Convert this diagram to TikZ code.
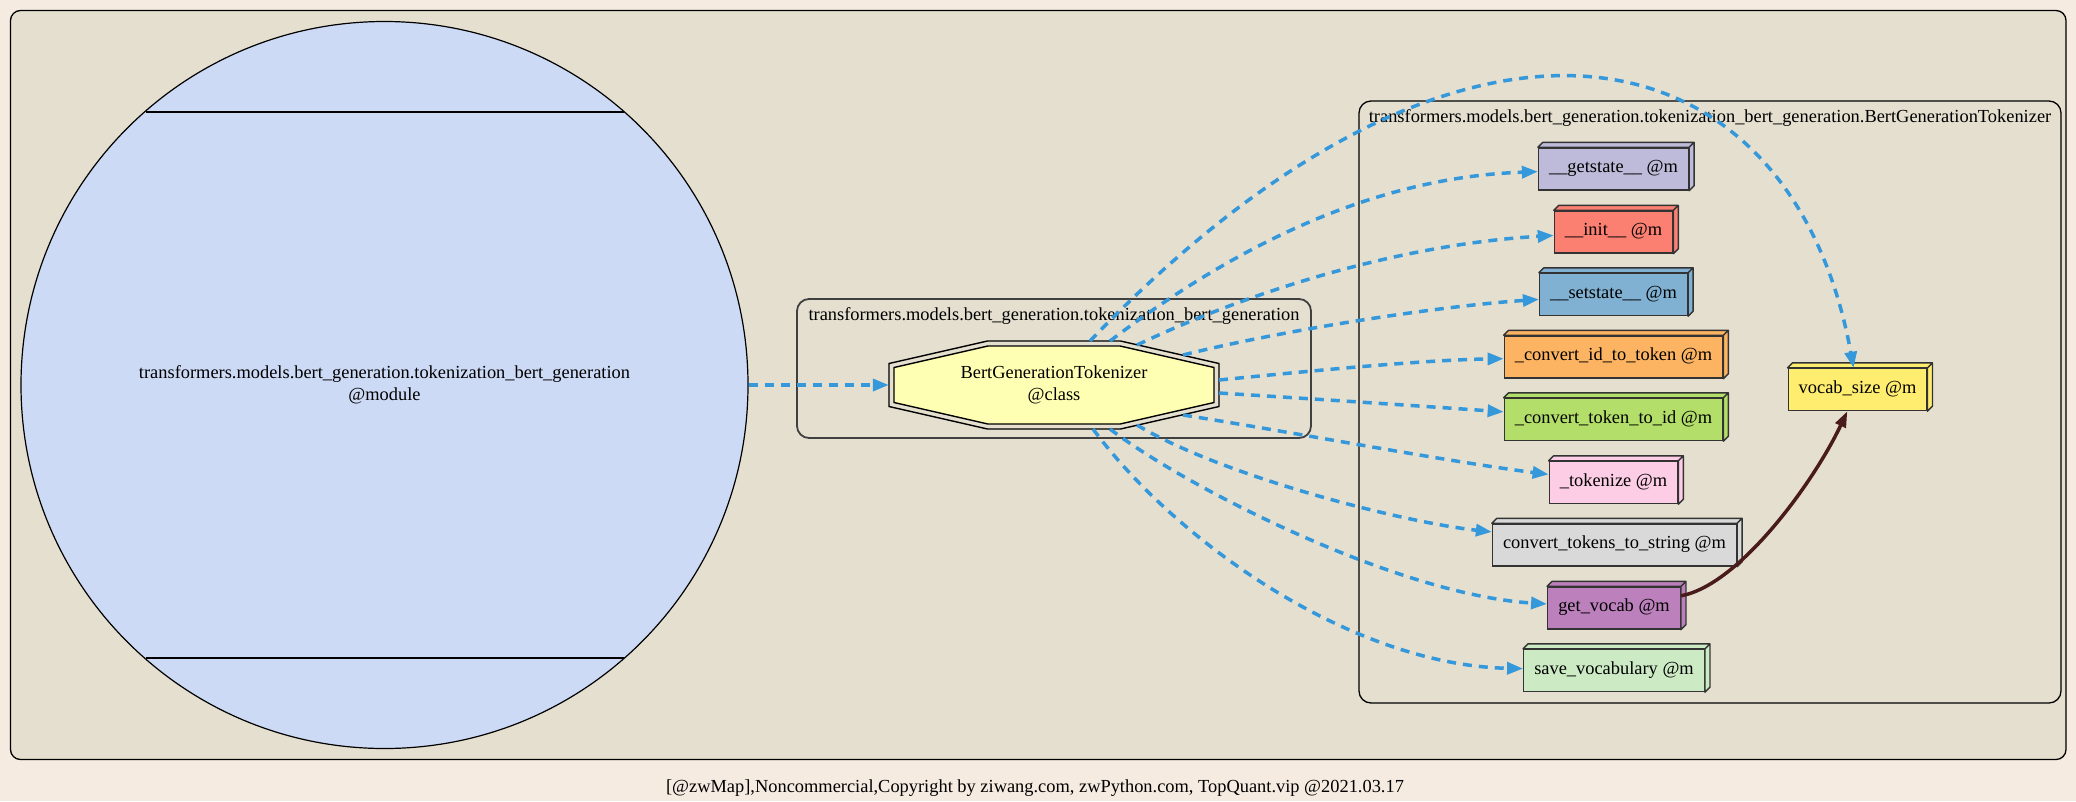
\documentclass[tikz,border=0pt]{standalone}
\usepackage{fontspec}
\setmainfont{Liberation Serif}
\usepackage{tikz}
\usetikzlibrary{shapes,arrows.meta,calc,positioning}
\definecolor{pagebg}{HTML}{F6EBE1}
\definecolor{clusterbg}{HTML}{E5DFD0}
\definecolor{modfill}{HTML}{CDDAF5}
\definecolor{clsfill}{HTML}{FFFFB3}
\definecolor{callblue}{HTML}{3498DB}
\definecolor{usebrown}{HTML}{4A1B1B}
\definecolor{boxline}{HTML}{333333}
\definecolor{mgetstate}{HTML}{BEBADA}
\definecolor{minit}{HTML}{FB8072}
\definecolor{msetstate}{HTML}{80B1D3}
\definecolor{mconvid}{HTML}{FDB462}
\definecolor{mconvtok}{HTML}{B3DE69}
\definecolor{mtokenize}{HTML}{FCCDE5}
\definecolor{mtokstr}{HTML}{D9D9D9}
\definecolor{mgetvocab}{HTML}{BC80BD}
\definecolor{msavevocab}{HTML}{CCEBC5}
\definecolor{mvocab}{HTML}{FFED6F}
\newcommand{\gvfont}{\fontsize{18.4pt}{22pt}\selectfont}

\begin{document}
\begin{tikzpicture}[x=1pt,y=-1pt,
  cluster/.style={draw=black,line width=1.3pt,fill=clusterbg,rounded corners=12pt},
  clabel/.style={font=\gvfont,anchor=base,inner sep=0pt},
  modnode/.style={circle,draw=black,line width=1.2pt,fill=modfill,minimum size=727pt,inner sep=0pt,align=center,font=\gvfont},
  clsnode/.style={rectangle,minimum width=330pt,minimum height=88pt,inner sep=0pt,align=center,font=\gvfont},
  octa/.style={draw=black,line width=1.4pt,line join=miter},
  method/.style={rectangle,draw=boxline,line width=1.4pt,fill=#1,minimum height=42pt,inner xsep=10.5pt,text height=12pt,text depth=5pt,font=\gvfont},
  boxface/.style={draw=boxline,line width=1.4pt,line join=round},
  call/.style={-{Triangle[length=16pt,width=12pt]},callblue,line width=3.5pt,dash pattern=on 9pt off 7pt},
  use/.style={-{Triangle[length=16pt,width=11pt]},usebrown,line width=3.5pt},
]
\useasboundingbox (0,0) rectangle (2076,801);
\fill[pagebg] (0,0) rectangle (2076,801);

% CLUSTERS
\draw[cluster,rounded corners=10pt] (10.5,10.5) rectangle (2066,759.5);
\draw[cluster,draw=black!75,line width=1.8pt] (797,299) rectangle (1311,438);
\node[clabel] (modtitle) at (1054,320) {transformers.models.bert\_generation.tokenization\_bert\_generation};
\draw[cluster] (1359,101) rectangle (2061,703);
\node[clabel] (clstitle) at (1710,122) {transformers.models.bert\_generation.tokenization\_bert\_generation.BertGenerationTokenizer};

% MODULE
\node[modnode] (mod) at (384.5,385) {transformers.models.bert\_generation.tokenization\_bert\_generation\\@module};
\draw[line width=1.2pt] ($(mod)+(-239,-273)$) -- ($(mod)+(239,-273)$);
\draw[line width=1.2pt] ($(mod)+(-239,273)$) -- ($(mod)+(239,273)$);

% CLASS (double octagon)
\coordinate (clsc) at (1054,385);
\begin{scope}[shift={(clsc)}]
\draw[octa] (-165,-21.5) -- (-66.5,-44) -- (66.5,-44) -- (165,-21.5) -- (165,21.5) -- (66.5,44) -- (-66.5,44) -- (-165,21.5) -- cycle;
\draw[octa,fill=clsfill] (-160,-17.5) -- (-66.1,-39) -- (66.1,-39) -- (160,-17.5) -- (160,17.5) -- (66.1,39) -- (-66.1,39) -- (-160,17.5) -- cycle;
\end{scope}
\node[clsnode] (cls) at (clsc) {BertGenerationTokenizer\\@class};

% METHODS
\node[method=mgetstate] (getstate) at (1613.5,169) {\_\_getstate\_\_ @m};
\node[method=minit] (init) at (1613.5,232) {\_\_init\_\_ @m};
\node[method=msetstate] (setstate) at (1613.5,294.5) {\_\_setstate\_\_ @m};
\node[method=mconvid] (convid) at (1613.5,357) {\_convert\_id\_to\_token @m};
\node[method=mconvtok] (convtok) at (1613.5,419.5) {\_convert\_token\_to\_id @m};
\node[method=mtokenize] (tokenize) at (1613.5,482.5) {\_tokenize @m};
\node[method=mtokstr] (tokstr) at (1614.5,545) {convert\_tokens\_to\_string @m};
\node[method=mgetvocab] (getvocab) at (1614,608) {get\_vocab @m};
\node[method=msavevocab] (savevocab) at (1614,670.5) {save\_vocabulary @m};
\node[method=mvocab] (vocab) at (1857.5,389.5) {vocab\_size @m};
\foreach \m/\c in {getstate/mgetstate,init/minit,setstate/msetstate,convid/mconvid,convtok/mconvtok,tokenize/mtokenize,tokstr/mtokstr,getvocab/mgetvocab,savevocab/msavevocab,vocab/mvocab}
  \draw[boxface,fill=\c] (\m.north west) -- ++(5,-5) -- ($(\m.north east)+(5,-5)$) -- ($(\m.south east)+(5,-5)$) -- (\m.south east) -- (\m.north east) -- cycle (\m.north east) -- ++(5,-5);

% EDGES
\draw[call] (mod) -- (cls);
\draw[call] ($(cls)+(36,-44)$) .. controls (1467,-52) and (1791,25) .. (vocab);
\draw[call] ($(cls)+(56,-44)$) .. controls (1230,250) and (1369,177.5) .. (getstate);
\draw[call] ($(cls)+(83,-40)$) .. controls (1257,288) and (1406,244) .. (init);
\draw[call] ($(cls)+(129,-30)$) .. controls (1283,330) and (1440,306) .. (setstate);
\draw[call] ($(cls)+(165,-5)$) .. controls (1300,372) and (1420,360) .. (convid);
\draw[call] ($(cls)+(165,8)$) .. controls (1300,398) and (1420,406) .. (convtok);
\draw[call] ($(cls)+(129,30)$) .. controls (1280,430) and (1450,462) .. (tokenize);
\draw[call] ($(cls)+(83,40)$) .. controls (1220,475) and (1400,522) .. (tokstr);
\draw[call] ($(cls)+(56,44)$) .. controls (1190,490) and (1400,595) .. (getvocab);
\draw[call] ($(cls)+(39,44)$) .. controls (1175,540) and (1350,665) .. (savevocab);
\draw[use] (getvocab) .. controls (1740,585) and (1815,480) .. (vocab);

% FOOTER
\node[clabel] (credit) at (1035,792) {[@zwMap],Noncommercial,Copyright by ziwang.com, zwPython.com, TopQuant.vip @2021.03.17};
\end{tikzpicture}
\end{document}
